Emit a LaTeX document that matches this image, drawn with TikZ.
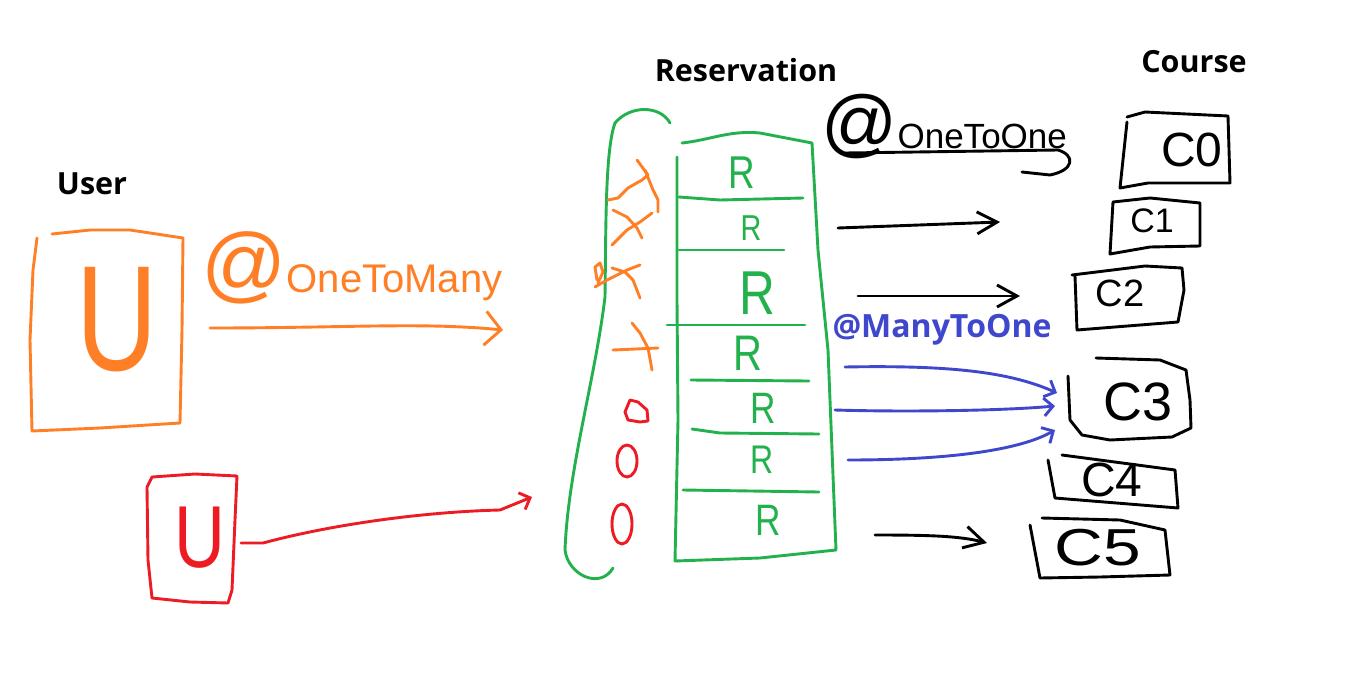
\documentclass[tikz,border=0pt]{standalone}
\usepackage{fontspec}
\setmainfont{Liberation Sans}
\newfontfamily\headfont{Open Sans}
\newfontfamily\handfont{Liberation Sans}
\usetikzlibrary{arrows.meta}
\definecolor{porange}{HTML}{FF7F27}
\definecolor{pred}{HTML}{ED1C24}
\definecolor{pgreen}{HTML}{22B14C}
\definecolor{pblue}{HTML}{3F48CC}
\newcommand{\hs}[1]{\handfont\fontsize{#1}{#1}\selectfont}
\begin{document}
\begin{tikzpicture}[x=1pt,y=-1pt,line width=2.9pt,line cap=round,line join=round,
  head/.style={font=\headfont\bfseries\fontsize{30.5}{33}\selectfont,inner sep=0pt},
  hand/.style={inner sep=0pt},
  bigbarb/.style={-{Straight Barb[length=16pt,width=34pt,line width=2.9pt]}},
  midbarb/.style={-{Straight Barb[length=20pt,width=22pt,line width=2.9pt]}},
  smallbarb/.style={-{Straight Barb[length=9pt,width=18pt,line width=2.9pt]}}]
\useasboundingbox[fill=white] (0,0) rectangle (1345,675);

% headings
\node[head] (userlbl) at (92,184) {User};
\node[head] (reslbl) at (746,70) {Reservation};
\node[head] (courselbl) at (1194,62) {Course};

% ---------- orange user ----------
\draw[porange] (52,234) -- (90,230) -- (130,230) -- (150,233) -- (183,238) -- (182,330) -- (180,423) -- (100,428) -- (32,431) -- (30,340) -- (33,270) -- (37,238);
\node[hand,text=porange,font=\hs{150}] (uorange) at (117,320) {\scalebox{0.75}[1]{U}};
\node[hand,text=porange,font=\hs{40},anchor=base west] (otm) at (200,292) {{\fontsize{84}{84}\selectfont @}OneToMany};
\coordinate (oa1) at (210,328);
\coordinate (oa2) at (503,330);
\draw[porange,bigbarb] (oa1) .. controls (350,328) and (420,322) .. (oa2);

% ---------- red user ----------
\draw[pred] (152,477) -- (195,474) -- (237,476) -- (235,520) -- (232,590) -- (228,603) -- (190,602) -- (152,598) -- (148,560) -- (147,487) -- cycle;
\node[hand,text=pred,font=\hs{88}] (ured) at (200,538) {\scalebox{0.8}[1]{U}};
\coordinate (ra1) at (241,543);
\coordinate (ra2) at (532,497);
\draw[pred,smallbarb] (ra1) -- (263,543) .. controls (330,525) and (420,512) .. (500,510) -- (ra2);

% ---------- green reservation ----------
\draw[pgreen] (670,123) .. controls (660,105) and (630,105) .. (615,123) .. controls (605,150) and (606,230) .. (605,297) .. controls (595,380) and (568,470) .. (565,550) .. controls (568,575) and (600,590) .. (613,568);
\draw[pgreen] (682,143) .. controls (710,140) and (730,130) .. (760,133) -- (812,143) -- (818,250) -- (828,350) -- (836,550) -- (760,558) -- (675,561) -- (678,420) -- (677,300) -- (677,157);
\draw[pgreen] (679,197) -- (720,200) -- (803,198);
\draw[pgreen] (679,250) -- (784,250);
\draw[pgreen] (667,325) -- (805,325);
\draw[pgreen] (691,380) -- (809,381);
\draw[pgreen] (692,429) -- (720,433) -- (819,434);
\draw[pgreen] (683,490) -- (819,492);
\node[hand,text=pgreen,font=\hs{46}] (r1) at (742,173) {\scalebox{0.8}[1]{R}};
\node[hand,text=pgreen,font=\hs{36}] (r2) at (751,228) {\scalebox{0.8}[1]{R}};
\node[hand,text=pgreen,font=\hs{62}] (r3) at (757,293) {\scalebox{0.8}[1]{R}};
\node[hand,text=pgreen,font=\hs{50}] (r4) at (748,353) {\scalebox{0.8}[1]{R}};
\node[hand,text=pgreen,font=\hs{44}] (r5) at (763,408) {\scalebox{0.8}[1]{R}};
\node[hand,text=pgreen,font=\hs{40}] (r6) at (762,460) {\scalebox{0.8}[1]{R}};
\node[hand,text=pgreen,font=\hs{44}] (r7) at (768,520) {\scalebox{0.8}[1]{R}};

% orange crosses
\draw[porange] (608,200) -- (618,198) -- (628,188) -- (642,180) -- (648,175) -- (637,160);
\draw[porange] (645,170) -- (653,190) -- (658,200) -- (658,212);
\draw[porange] (612,245) -- (627,230) -- (640,222) -- (652,213);
\draw[porange] (613,210) -- (627,217) -- (637,228) -- (642,238);
\draw[porange] (595,287) -- (607,280) -- (627,270) -- (640,265);
\draw[porange] (612,268) -- (625,272) -- (633,280) -- (640,298);
\draw[porange] (597,280) -- (595,267) -- (600,263) -- (603,272) -- (598,283);
\draw[porange] (613,350) -- (658,348);
\draw[porange] (632,323) -- (640,333) -- (648,348) -- (652,370);
% red circles
\draw[pred] (630,400) -- (625,412) -- (628,420) -- (640,422) -- (648,421) -- (647,410) -- (638,402) -- cycle;
\draw[pred] (627,461) ellipse [x radius=10pt,y radius=16pt];
\draw[pred] (622,524) ellipse [x radius=10pt,y radius=20pt];

% ---------- black one-to-one ----------
\node[hand,text=black,font=\hs{35},anchor=base west] (oto) at (820,148) {{\fontsize{75}{75}\selectfont @}OneToOne};
\coordinate (ob1) at (845,153);
\coordinate (ob2) at (1022,172);
\draw (ob1) -- (1058,150) .. controls (1075,155) and (1075,170) .. (1050,175) -- (ob2);

\coordinate (ba1) at (838,228); \coordinate (ba2) at (1000,222);
\coordinate (bb1) at (858,296); \coordinate (bb2) at (1020,296);
\coordinate (bc1) at (875,535); \coordinate (bc2) at (987,543);
\draw[midbarb] (ba1) -- (ba2);
\draw[midbarb] (bb1) -- (bb2);
\draw[midbarb] (bc1) .. controls (930,535) and (960,536) .. (bc2);

% ---------- blue many-to-one ----------
\node[head,text=pblue,font=\headfont\bfseries\fontsize{32}{34}\selectfont] (mto) at (942,330) {@ManyToOne};
\coordinate (ma1) at (845,367); \coordinate (ma2) at (1057,393);
\coordinate (mb1) at (835,410); \coordinate (mb2) at (1055,406);
\coordinate (mc1) at (848,460); \coordinate (mc2) at (1055,430);
\draw[pblue,smallbarb] (ma1) .. controls (950,365) and (1010,372) .. (ma2);
\draw[pblue,smallbarb] (mb1) .. controls (900,412) and (1000,411) .. (mb2);
\draw[pblue,smallbarb] (mc1) .. controls (950,460) and (1020,450) .. (mc2);

% ---------- courses ----------
\draw (1127,122) -- (1120,188) -- (1148,183) -- (1230,183) -- (1228,116) -- (1145,112) -- (1127,117);
\node[hand,font=\hs{48}] (c0) at (1192,150) {C0};
\draw (1113,202) -- (1150,198) -- (1200,203) -- (1200,246) -- (1150,247) -- (1110,254) -- cycle;
\node[hand,font=\hs{34}] (c1) at (1152,221) {C1};
\draw (1072,275) -- (1145,266) -- (1182,268) -- (1184,290) -- (1178,322) -- (1077,330) -- (1075,276);
\node[hand,font=\hs{38}] (c2) at (1120,293) {C2};
\draw (1096,358) -- (1160,360) -- (1186,370) -- (1190,400) -- (1191,428) -- (1172,437) -- (1110,440) -- (1082,435) -- (1070,420) -- (1068,376);
\node[hand,font=\hs{54}] (c3) at (1138,402) {C3};
\draw (1062,455) -- (1175,470) -- (1178,508) -- (1055,498) -- (1048,460);
\node[hand,font=\hs{48}] (c4) at (1112,480) {C4};
\draw (1042,518) -- (1120,520) -- (1165,530) -- (1170,575) -- (1100,577) -- (1040,578) -- (1030,525);
\node[hand,font=\hs{52}] (c5) at (1098,548) {\scalebox{1.3}[1]{C5}};
\end{tikzpicture}
\end{document}
